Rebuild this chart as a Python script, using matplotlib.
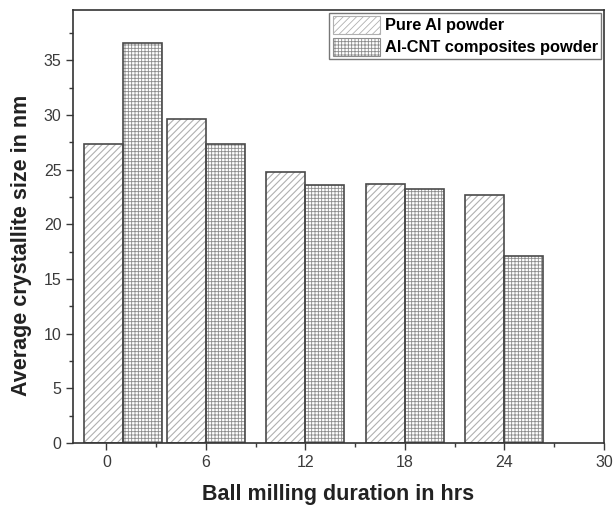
import matplotlib
matplotlib.use("Agg")
import matplotlib.pyplot as plt
from matplotlib.ticker import MultipleLocator
import numpy as np

plt.rcParams['font.family'] = ['Liberation Sans', 'DejaVu Sans']

# Data
hours = [1, 6, 12, 18, 24]          # bar group position (hrs)
pure_al = [27.4, 29.6, 24.8, 23.7, 22.7]   # Pure Al powder (nm)
al_cnt = [36.6, 27.4, 23.6, 23.2, 17.1]    # Al-CNT composites powder (nm)
tick_vals = [0, 6, 12, 18, 24, 30]
labels = ['Pure Al powder', 'Al-CNT composites powder']

width = 2.35
edge = '#4a4a4a'

fig = plt.figure(figsize=(6.15, 5.08), dpi=100)
ax = fig.add_axes([0.119, 0.128, 0.863, 0.852])

x = np.array(hours, dtype=float)
# hatched fills first (hatch takes the edge colour), dark outlines on top
plt.rcParams['hatch.linewidth'] = 0.8
b1 = ax.bar(x - width, pure_al, width, align='edge', color='white',
            edgecolor='#b0b0b0', hatch='/////', linewidth=0, label=labels[0])
plt.rcParams['hatch.linewidth'] = 0.6
b2 = ax.bar(x, al_cnt, width, align='edge', color='white',
            edgecolor='#8c8c8c', hatch='+++++', linewidth=0, label=labels[1])
ax.bar(x - width, pure_al, width, align='edge', fill=False, edgecolor=edge, linewidth=1.2)
ax.bar(x, al_cnt, width, align='edge', fill=False, edgecolor=edge, linewidth=1.2)

ax.set_xlim(-2, 30)
ax.set_ylim(0, 39.6)
ax.set_xticks(tick_vals)
ax.xaxis.set_minor_locator(MultipleLocator(3))
ax.yaxis.set_major_locator(MultipleLocator(5))
ax.yaxis.set_minor_locator(MultipleLocator(2.5))
ax.tick_params(which='both', direction='out', colors='#3a3a3a', labelsize=11.5,
               top=False, right=False)
ax.tick_params(which='major', length=5, width=1)
ax.tick_params(which='minor', length=3, width=1)
for s in ax.spines.values():
    s.set_color('#333333')
    s.set_linewidth(1.2)

ax.set_xlabel('Ball milling duration in hrs', fontsize=15.5, fontweight='bold',
              color='#222222', labelpad=10)
ax.set_ylabel('Average crystallite size in nm', fontsize=15.5, fontweight='bold',
              color='#222222')
ax.yaxis.set_label_coords(-0.077, 0.457)

leg = ax.legend(handles=[b1, b2], loc='upper right',
                prop={'weight': 'bold', 'size': 11.8}, frameon=True, fancybox=False,
                borderaxespad=0.15, handlelength=2.9, handleheight=1.3,
                handletextpad=0.3, borderpad=0.2, labelspacing=0.25)
leg.get_frame().set_edgecolor('#555555')
leg.get_frame().set_linewidth(1.0)
for h in leg.legend_handles:
    h.set_linewidth(0.8)

fig.savefig('out.png', dpi=100)
